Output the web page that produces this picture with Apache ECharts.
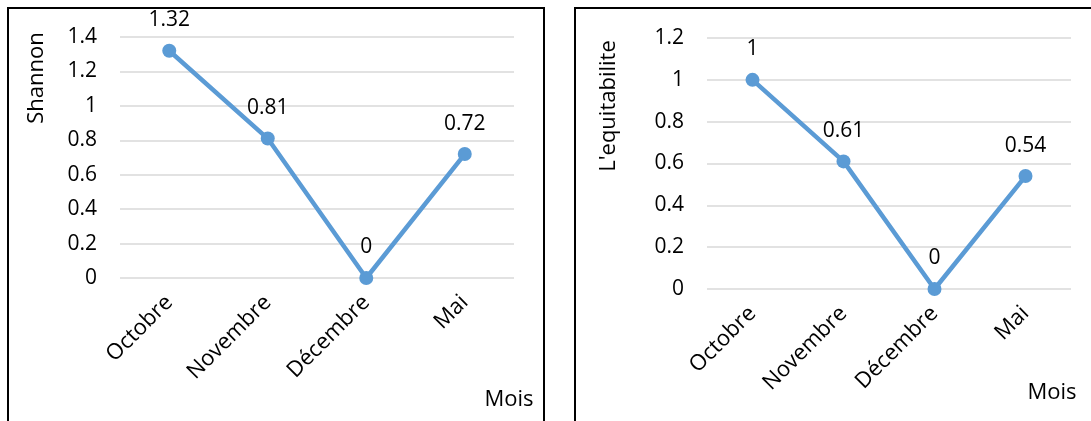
<!DOCTYPE html>
<html>
<head>
<meta charset="utf-8">
<script src="https://cdn.jsdelivr.net/npm/echarts@6/dist/echarts.min.js"></script>
<style>
  html, body { margin: 0; padding: 0; background: #fff; }
  #chart { width: 1091px; height: 421px; }
</style>
</head>
<body>
<div id="chart"></div>
<script>
// donnees
var mois = ['Octobre', 'Novembre', 'Décembre', 'Mai'];
var shannon = [1.32, 0.81, 0, 0.72];
var equitabilite = [1, 0.61, 0, 0.54];

var FONT = 'Open Sans';
var lineColor = '#5B9BD5';

function makeSeries(idx, values) {
    return {
        type: 'line',
        xAxisIndex: idx,
        yAxisIndex: idx,
        data: values,
        symbol: 'circle',
        symbolSize: 14,
        lineStyle: { color: lineColor, width: 4.5 },
        itemStyle: { color: lineColor },
        label: {
            show: true,
            position: 'top',
            distance: 13,
            color: '#000',
            fontFamily: FONT,
            fontSize: 21
        },
        animation: false
    };
}

function makeX(idx) {
    return {
        type: 'category',
        gridIndex: idx,
        data: mois,
        boundaryGap: true,
        axisLine: { show: false },
        axisTick: { show: false },
        axisLabel: {
            rotate: 45,
            margin: 21,
            color: '#000',
            fontFamily: FONT,
            fontSize: 22
        }
    };
}

function makeY(idx, max) {
    return {
        type: 'value',
        gridIndex: idx,
        min: 0,
        max: max,
        interval: 0.2,
        axisLine: { show: false },
        axisTick: { show: false },
        splitLine: { lineStyle: { color: '#D9D9D9', width: 1.5 } },
        axisLabel: {
            margin: 23,
            color: '#000',
            fontFamily: FONT,
            fontSize: 21
        }
    };
}

function vText(x, y, txt) {
    return {
        type: 'text',
        x: x,
        y: y,
        rotation: Math.PI / 2,
        style: {
            text: txt,
            textAlign: 'center',
            textVerticalAlign: 'middle',
            fill: '#000',
            font: '22px "' + FONT + '"'
        }
    };
}

function hText(x, y, txt) {
    return {
        type: 'text',
        x: x,
        y: y,
        style: {
            text: txt,
            textAlign: 'center',
            textVerticalAlign: 'middle',
            fill: '#000',
            font: '22px "' + FONT + '"'
        }
    };
}

var myChart = echarts.init(document.getElementById('chart'));
var option = {
    backgroundColor: '#fff',
    animation: false,
    grid: [
        { left: 120, top: 37, width: 394, height: 241 },
        { left: 707, top: 38, width: 364, height: 251 }
    ],
    xAxis: [makeX(0), makeX(1)],
    yAxis: [makeY(0, 1.4), makeY(1, 1.2)],
    series: [makeSeries(0, shannon), makeSeries(1, equitabilite)],
    graphic: [
        {
            type: 'rect',
            shape: { x: 8, y: 8, width: 536, height: 430 },
            style: { fill: 'none', stroke: '#000', lineWidth: 2 }
        },
        {
            type: 'rect',
            shape: { x: 575, y: 8, width: 530, height: 430 },
            style: { fill: 'none', stroke: '#000', lineWidth: 2 }
        },
        vText(37, 78, 'Shannon'),
        vText(609, 106, "L'equitabilite"),
        hText(509, 400, 'Mois'),
        hText(1052, 393, 'Mois')
    ]
};
myChart.setOption(option);
</script>
</body>
</html>
